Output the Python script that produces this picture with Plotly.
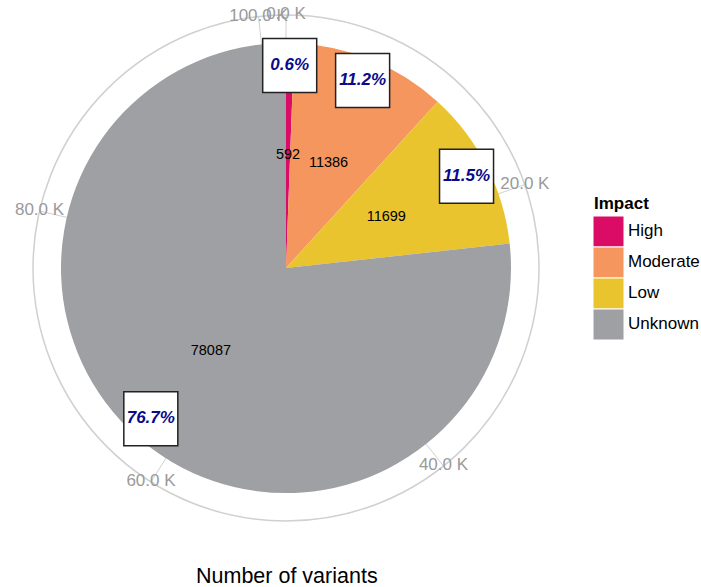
import plotly.graph_objects as go

categories = ["High", "Moderate", "Low", "Unknown"]
counts = [592, 11386, 11699, 78087]
colors = ["#DA0C66", "#F5965E", "#EAC42F", "#9FA0A4"]
tick_values = [0, 20000, 40000, 60000, 80000, 100000]
tick_labels = ["0.0 K", "20.0 K", "40.0 K", "60.0 K", "80.0 K", "100.0 K"]

total = sum(counts)
widths = [c / total * 360 for c in counts]
starts = []
acc = 0
for c in counts:
    starts.append(acc / total * 360)
    acc += c
mids = [s + w / 2 for s, w in zip(starts, widths)]
pct_text = [f"{c / total * 100:.1f}%" for c in counts]
tick_deg = [v / total * 360 for v in tick_values]

R_PIE = 1.0
R_MAX = 253 / 225
FONT = "Liberation Sans, Arial"

fig = go.Figure()

for cat, c, col, th, w in zip(categories, counts, colors, mids, widths):
    fig.add_trace(go.Barpolar(
        r=[R_PIE], theta=[th], width=[w], base=0, name=cat,
        marker=dict(color=col, line=dict(width=0)), showlegend=False,
        hoverinfo="name+text", text=[str(c)],
    ))

# tick labels on ring
fig.add_trace(go.Scatterpolar(
    r=[R_MAX] * len(tick_deg), theta=tick_deg, mode="text", text=tick_labels,
    textfont=dict(size=17, color="#9A9A9A", family=FONT),
    cliponaxis=False, showlegend=False, hoverinfo="skip",
))

# counts
fig.add_trace(go.Scatterpolar(
    r=[0.5] * len(counts), theta=mids, mode="text", text=[str(c) for c in counts],
    textfont=dict(size=14.5, color="black", family=FONT),
    cliponaxis=False, showlegend=False, hoverinfo="skip",
))

# percentage labels in boxes
fig.add_trace(go.Scatterpolar(
    r=[0.9] * len(counts), theta=mids, mode="markers+text", text=pct_text,
    marker=dict(symbol="square", size=54, color="white", line=dict(color="#222222", width=1.5)),
    textposition="middle center",
    textfont=dict(size=17, color="#0A0A8C", family=FONT, weight="bold", style="italic"),
    cliponaxis=False, showlegend=False, hoverinfo="skip",
))

W, H = 701, 587
cx, cy, rr = 286, 268, 253
lx = 593
legend_y = [3.5, 2.5, 1.5, 0.5]

# custom legend: keys
fig.add_trace(go.Scatter(
    x=[15.5] * len(categories), y=legend_y, mode="markers",
    marker=dict(symbol="square", size=31, color=colors, line=dict(color="white", width=1)),
    cliponaxis=False, showlegend=False, hoverinfo="skip",
    xaxis="x", yaxis="y",
))
# custom legend: labels
fig.add_trace(go.Scatter(
    x=[628 - lx] * len(categories), y=legend_y, mode="text",
    text=categories, textposition="middle right",
    textfont=dict(size=17, color="black", family=FONT),
    cliponaxis=False, showlegend=False, hoverinfo="skip",
    xaxis="x", yaxis="y",
))

fig.update_layout(
    width=W, height=H, margin=dict(l=0, r=0, t=0, b=0),
    paper_bgcolor="white", plot_bgcolor="white",
    polar=dict(
        domain=dict(x=[(cx - rr) / W, (cx + rr) / W],
                    y=[(H - cy - rr) / H, (H - cy + rr) / H]),
        bgcolor="white",
        radialaxis=dict(range=[0, R_MAX], visible=False, showgrid=False),
        angularaxis=dict(
            rotation=90, direction="clockwise", thetaunit="degrees",
            tickmode="array", tickvals=tick_deg, ticktext=tick_labels,
            showticklabels=False, ticks="", showgrid=True,
            gridcolor="#D0D0D0", gridwidth=1.2, showline=True,
            linecolor="#D0D0D0", linewidth=1.5, layer="below traces",
        ),
    ),
    xaxis=dict(domain=[lx / W, 1.0], range=[0, W - lx], visible=False, fixedrange=True),
    yaxis=dict(domain=[(H - 340) / H, (H - 216) / H], range=[0, 4],
               visible=False, fixedrange=True),
    annotations=[
        dict(text="<b>Impact</b>", x=592 / W, y=(H - 203.5) / H,
             xref="paper", yref="paper",
             xanchor="left", yanchor="middle", showarrow=False,
             font=dict(size=17, color="black", family=FONT)),
        dict(text="Number of variants", x=287 / W, y=(H - 576) / H,
             xref="paper", yref="paper",
             xanchor="center", yanchor="middle", showarrow=False,
             font=dict(size=21.5, color="black", family=FONT)),
    ],
)

fig.write_html(
    "out.html",
    config={"displayModeBar": False},
    post_script="document.body.style.margin='0';document.body.style.overflow='hidden';",
)
